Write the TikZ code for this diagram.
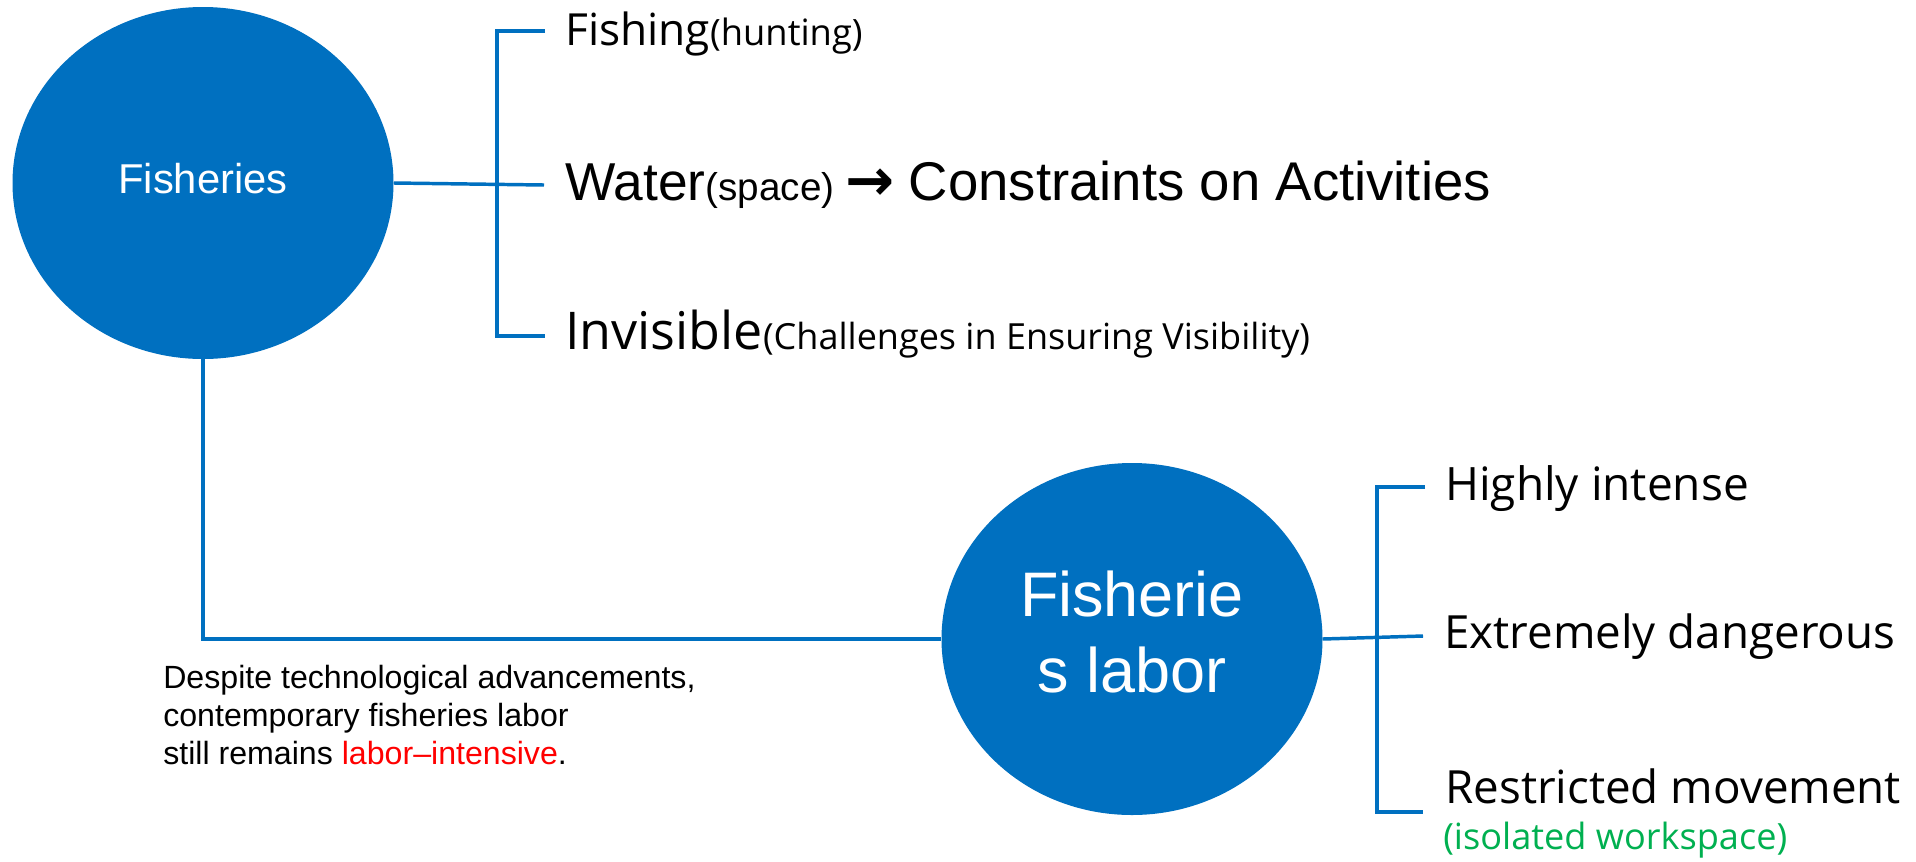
\documentclass[tikz,border=0pt]{standalone}
\usepackage{fontspec}
\setmainfont{Liberation Sans}
\newfontfamily\segf{Open Sans}
\newfontfamily\djf{DejaVu Sans}
\usetikzlibrary{shapes.geometric}
\definecolor{fblue}{HTML}{0070C0}
\definecolor{fgreen}{HTML}{00B050}
\definecolor{fred}{HTML}{FF0000}
\newcommand{\fsz}[2]{\fontsize{#1pt}{#2pt}\selectfont}
\begin{document}
\begin{tikzpicture}[x=0.75pt,y=-0.75pt,
  bubble/.style={ellipse, fill=fblue, draw=none, minimum width=285.75pt, minimum height=264pt, inner sep=0pt},
  link/.style={draw=fblue, line width=2.6pt},
  txt/.style={anchor=base west, inner sep=0pt, text=black}]
\useasboundingbox (0,0) rectangle (1916,861);
\fill[white] (0,0) rectangle (1916,861);
% bubbles
\node[bubble] (e1) at (203,183) {};
\node[bubble] (e2) at (1132,639) {};
\node[anchor=base, inner sep=0pt, text=white, font=\fsz{31.3}{36}] (e1t) at (203,193.3) {Fisheries};
\node[anchor=center, inner sep=0pt, text=white, align=center, font=\fsz{47.2}{57}] (e2t) at (1132,632) {Fisherie\\s labor};
% top bracket
\coordinate (b1t) at (545,31);
\coordinate (b1v) at (497,31);
\coordinate (b1b) at (545,336);
\coordinate (b1m) at (544,185);
\draw[link] (b1t) -- (b1v) |- (b1b);
\draw[link] (e1.east) -- (b1m);
% link between bubbles
\draw[link] (e1.south) |- (e2.west);
% bottom bracket
\coordinate (b2t) at (1425,487);
\coordinate (b2v) at (1377,487);
\coordinate (b2b) at (1423,812);
\coordinate (b2m) at (1423,636);
\draw[link] (b2t) -- (b2v) |- (b2b);
\draw[link] (e2.east) -- (b2m);
% texts
\node[txt, font=\segf\fsz{33.2}{40}] (t1) at (565,45.7) {Fishing{\fsz{27.2}{32}(hunting)}};
\node[txt, font=\fsz{40}{48}] (t2) at (565,200) {Water{\fsz{29}{34}(space)}\hspace{8pt}{\djf\bfseries\fsz{44}{48}→}\hspace{11pt}{\fsz{40.9}{48}Constraints on Activities}};
\node[txt, font=\segf\fsz{39}{46}] (t3) at (565,349) {Invisible{\fsz{27}{32}(Challenges in Ensuring Visibility)}};
\node[txt, font=\segf\fsz{34.5}{40}] (t4) at (1445,500.7) {Highly intense};
\node[txt, font=\segf\fsz{34.3}{40}] (t5) at (1444,648.5) {Extremely dangerous};
\node[txt, font=\segf\fsz{34.3}{40}] (t6) at (1445,803) {Restricted movement};
\node[txt, font=\segf\fsz{27.1}{32}, text=fgreen] (t7) at (1443,849) {(isolated workspace)};
\node[anchor=north west, inner sep=0pt, align=left, font=\fsz{24.1}{28.5}] (t8) at (163,664.5) {Despite technological advancements,\\contemporary fisheries labor\\still remains \textcolor{fred}{labor–intensive}.};
\end{tikzpicture}
\end{document}
